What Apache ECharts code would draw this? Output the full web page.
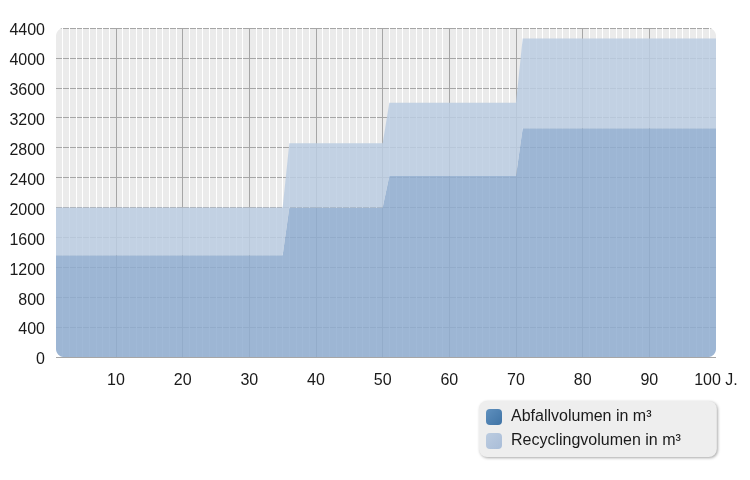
<!DOCTYPE html>
<html><head><meta charset="utf-8">
<script src="https://cdn.jsdelivr.net/npm/echarts@6/dist/echarts.min.js"></script>
<style>html,body{margin:0;padding:0;background:#fff}#c{width:750px;height:480px}</style>
</head><body><div id="c"></div>
<script>
// Years 1..100 (category labels)
const years = Array.from({length: 100}, (_, i) => String(i + 1));
const yTicks = { min: 0, max: 4400, step: 400 };
const seriesNames = ['Abfallvolumen in m³', 'Recyclingvolumen in m³'];

// Abfallvolumen (m³) per year
const abfall = [
  1360,1360,1360,1360,1360,1360,1360,1360,1360,1360,
  1360,1360,1360,1360,1360,1360,1360,1360,1360,1360,
  1360,1360,1360,1360,1360,1360,1360,1360,1360,1360,
  1360,1360,1360,1360,1360,2000,2000,2000,2000,2000,
  2000,2000,2000,2000,2000,2000,2000,2000,2000,2000,
  2420,2420,2420,2420,2420,2420,2420,2420,2420,2420,
  2420,2420,2420,2420,2420,2420,2420,2420,2420,2420,
  3060,3060,3060,3060,3060,3060,3060,3060,3060,3060,
  3060,3060,3060,3060,3060,3060,3060,3060,3060,3060,
  3060,3060,3060,3060,3060,3060,3060,3060,3060,3060
];
// Recyclingvolumen (m³) per year, stacked on top of Abfallvolumen
const recycling = [
  640,640,640,640,640,640,640,640,640,640,
  640,640,640,640,640,640,640,640,640,640,
  640,640,640,640,640,640,640,640,640,640,
  640,640,640,640,640,860,860,860,860,860,
  860,860,860,860,860,860,860,860,860,860,
  980,980,980,980,980,980,980,980,980,980,
  980,980,980,980,980,980,980,980,980,980,
  1200,1200,1200,1200,1200,1200,1200,1200,1200,1200,
  1200,1200,1200,1200,1200,1200,1200,1200,1200,1200,
  1200,1200,1200,1200,1200,1200,1200,1200,1200,1200
];

const G = { left: 56, top: 28, width: 660, height: 329, r: 8 };
const font = 'Arial, "Liberation Sans", sans-serif';
const FS = 16;

const chart = echarts.init(document.getElementById('c'));

function grad(c1, c2) {
  return { type: 'linear', x: 0, y: 0, x2: 1, y2: 1,
    colorStops: [{ offset: 0, color: c1 }, { offset: 1, color: c2 }] };
}

// white masks that round the corners of the plot area
function cornerMasks() {
  const L = G.left, T = G.top, R = G.left + G.width, B = G.top + G.height, r = G.r;
  const corners = [
    { cx: L + r, cy: T + r, px: L, py: T, a0: Math.PI, a1: 1.5 * Math.PI },
    { cx: R - r, cy: T + r, px: R, py: T, a0: 1.5 * Math.PI, a1: 2 * Math.PI },
    { cx: R - r, cy: B - r, px: R, py: B, a0: 0, a1: 0.5 * Math.PI },
    { cx: L + r, cy: B - r, px: L, py: B, a0: 0.5 * Math.PI, a1: Math.PI }
  ];
  return corners.map(c => {
    const pts = [[c.px, c.py]];
    const n = 12;
    for (let i = 0; i <= n; i++) {
      const a = c.a0 + (c.a1 - c.a0) * i / n;
      pts.push([c.cx + r * Math.cos(a), c.cy + r * Math.sin(a)]);
    }
    return { type: 'polygon', z: 100, silent: true,
      shape: { points: pts }, style: { fill: '#ffffff' } };
  });
}

const option = {
  animation: false,
  backgroundColor: '#ffffff',
  textStyle: { fontFamily: font },
  grid: {
    left: G.left, top: G.top, width: G.width, height: G.height,
    show: true, backgroundColor: '#ebebeb', borderWidth: 0
  },
  legend: {
    orient: 'vertical',
    left: 479, top: 401,
    padding: [8, 36, 8, 7],
    itemGap: 8,
    itemWidth: 16, itemHeight: 16,
    icon: 'roundRect',
    backgroundColor: '#eeeeee',
    borderRadius: 8,
    shadowBlur: 3, shadowColor: 'rgba(0,0,0,0.35)', shadowOffsetX: 1, shadowOffsetY: 1,
    textStyle: { fontSize: FS, color: '#1a1a1a', fontFamily: font, padding: [2, 0, 0, 4] },
    data: [
      { name: seriesNames[0], itemStyle: { color: grad('#5f90be', '#3f73a5') } },
      { name: seriesNames[1], itemStyle: { color: grad('#bccce0', '#a9bdd8') } }
    ]
  },
  xAxis: [
    {
      type: 'category', data: years, boundaryGap: false, z: 1,
      axisLine: { show: false }, axisTick: { show: false },
      axisLabel: {
        interval: (i, v) => Number(v) % 10 === 0,
        formatter: v => (v === '100' ? '100 J.' : v),
        fontSize: FS, color: '#1a1a1a', margin: 16, fontFamily: font
      },
      splitLine: { show: true, interval: (i, v) => Number(v) % 10 === 0 && v !== '100',
        lineStyle: { color: '#a6a6a6', width: 1 } }
    },
    {
      type: 'category', data: years, boundaryGap: false, position: 'bottom', z: 0,
      axisLine: { show: false }, axisTick: { show: false }, axisLabel: { show: false },
      splitLine: { show: true, interval: (i, v) => v !== '100' && v !== '1',
        lineStyle: { color: '#ffffff', width: 1 } }
    }
  ],
  yAxis: {
    type: 'value', min: yTicks.min, max: yTicks.max, interval: yTicks.step,
    axisLine: { show: false }, axisTick: { show: false },
    axisLabel: { fontSize: FS, color: '#1a1a1a', margin: 11, fontFamily: font,
      verticalAlign: 'top', lineHeight: 6, formatter: v => String(v) },
    splitLine: { show: true, lineStyle: { color: '#a6a6a6', width: 1 } }
  },
  series: [
    {
      name: seriesNames[0], type: 'line', stack: 'vol', data: abfall,
      showSymbol: false, symbol: 'none',
      lineStyle: { width: 0 },
      itemStyle: { color: '#4a80b0' },
      areaStyle: { color: '#8fadd0', opacity: 0.85 }
    },
    {
      name: seriesNames[1], type: 'line', stack: 'vol', data: recycling,
      showSymbol: false, symbol: 'none',
      lineStyle: { width: 0 },
      itemStyle: { color: '#b4c6dc' },
      areaStyle: { color: '#bbcce2', opacity: 0.85 }
    }
  ],
  graphic: cornerMasks()
};
chart.setOption(option);
</script>
</body></html>
